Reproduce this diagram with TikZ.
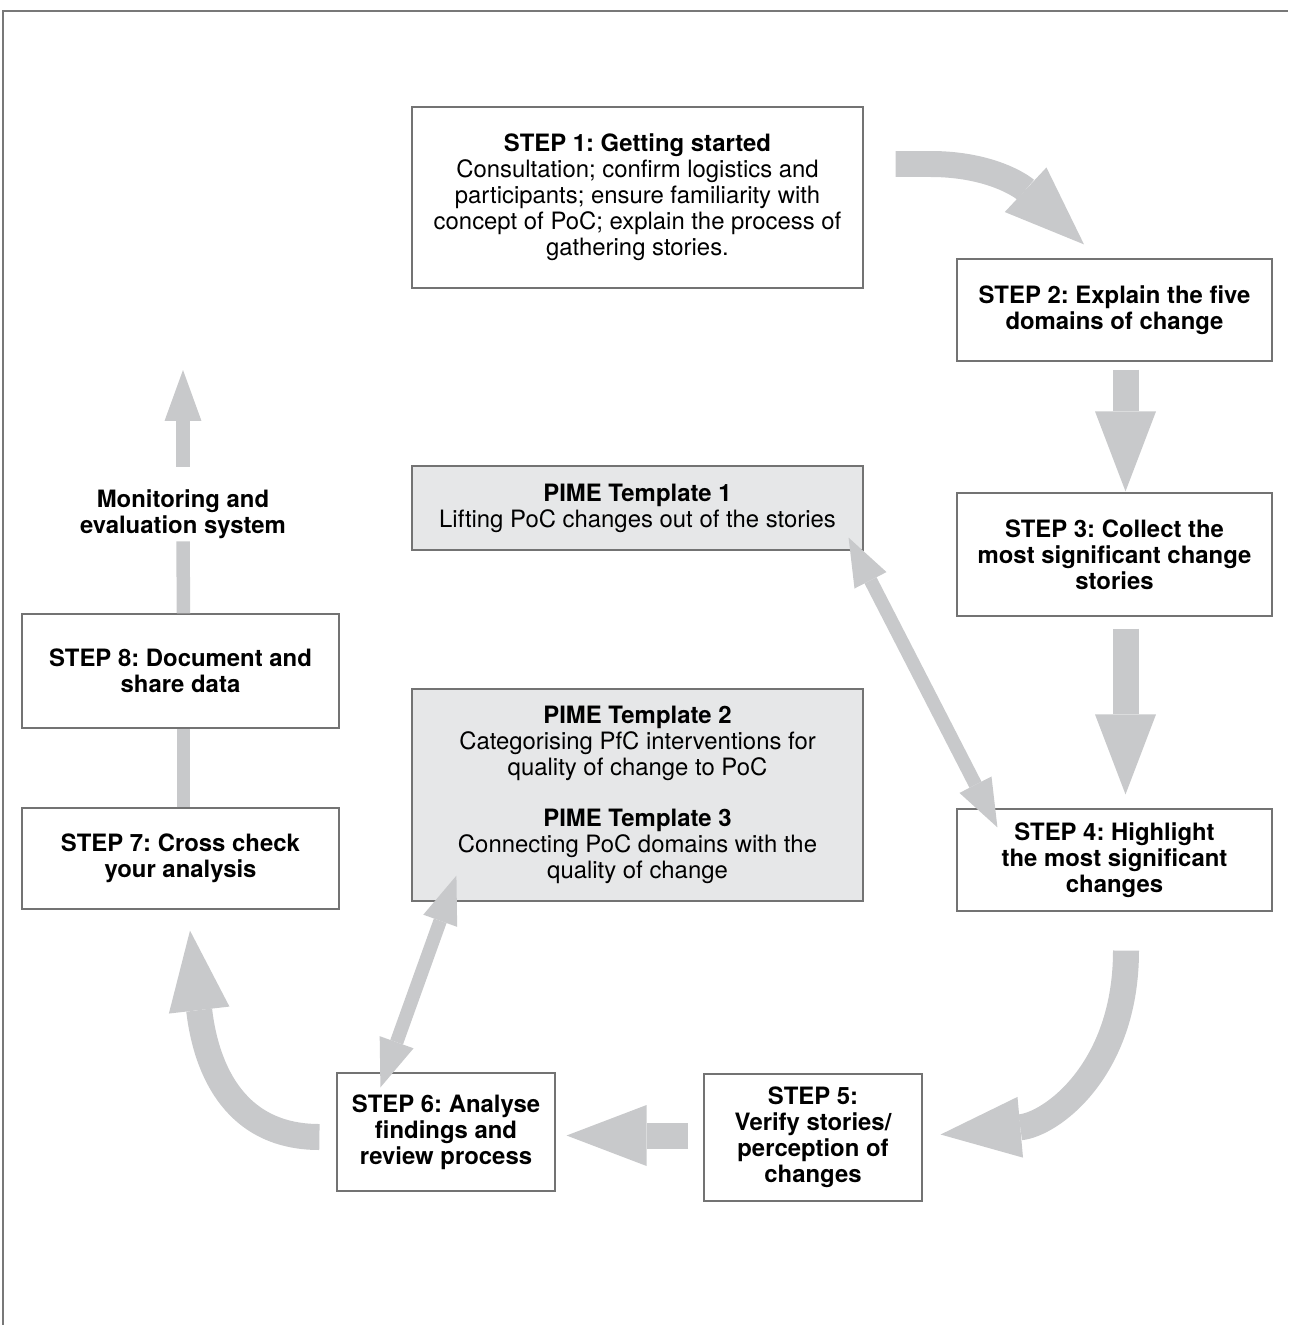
\documentclass[tikz,border=0pt]{standalone}
\usepackage{xcolor}
\usepackage{fontspec}
\setmainfont{TeX Gyre Heros}
\usetikzlibrary{arrows.meta}
\frenchspacing

\definecolor{arrowgray}{RGB}{200,201,203}
\definecolor{pimegray}{RGB}{230,231,232}
\definecolor{boxline}{RGB}{115,115,115}
\definecolor{framegray}{RGB}{120,120,120}

\begin{document}
\begin{tikzpicture}[x=0.02cm, y=-0.02cm,
    every node/.style={font=\fontsize{13.6}{14.8}\selectfont},
    stepbox/.style={draw=boxline, line width=0.7pt, fill=white, rectangle, align=center, inner sep=0pt, font=\fontsize{13.6}{14.8}\selectfont\bfseries},
    pimebox/.style={stepbox, fill=pimegray, font=\fontsize{13.6}{14.8}\selectfont},
    fatarrow/.style={arrowgray, line width=0.52cm, -{Triangle[width=1.22cm, length=1.6cm, line width=0pt]}},
    twoway/.style={arrowgray, line width=0.27cm, {Triangle[width=0.72cm, length=0.96cm, line width=0pt]}-{Triangle[width=0.72cm, length=0.96cm, line width=0pt]}},
    bar/.style={arrowgray, line width=0.27cm},
    thinarrow/.style={bar, -{Triangle[width=0.74cm, length=1.02cm, line width=0pt]}}]
    \useasboundingbox (0,0) rectangle (1288,1325);
    % frame
    \draw[framegray, line width=1.4pt] (3,1325) -- (3,11) -- (1288,11);

    % Step 1
    \node[stepbox, minimum width=9.02cm, minimum height=3.62cm, font=\fontsize{13.6}{14.8}\selectfont] (s1) at (637.5,197.5)
        {\textbf{STEP 1: Getting started}\\Consultation; confirm logistics and\\participants; ensure familiarity with\\concept of PoC; explain the process of\\gathering stories.};
    % Step 2
    \node[stepbox, minimum width=6.3cm, minimum height=2.04cm] (s2) at (1114.5,310) {STEP 2: Explain the five\\domains of change};
    % Step 3
    \node[stepbox, minimum width=6.3cm, minimum height=2.46cm] (s3) at (1114.5,554.5) {STEP 3: Collect the\\most significant change\\stories};
    % Step 4
    \node[stepbox, minimum width=6.3cm, minimum height=2.04cm] (s4) at (1114.5,860) {STEP 4: Highlight\\the most significant\\changes};
    % Step 5
    \node[stepbox, minimum width=4.36cm, minimum height=2.54cm] (s5) at (813,1137.5) {STEP 5:\\Verify stories/\\perception of\\changes};
    % Step 6
    \node[stepbox, minimum width=4.36cm, minimum height=2.36cm] (s6) at (446,1132) {STEP 6: Analyse\\findings and\\review process};
    % Step 7
    \node[stepbox, minimum width=6.34cm, minimum height=2.02cm] (s7) at (180.5,858.5) {STEP 7: Cross check\\your analysis};
    % Step 8
    \node[stepbox, minimum width=6.34cm, minimum height=2.28cm] (s8) at (180.5,671) {STEP 8: Document and\\share data};
    % M&E system
    \node[align=center, inner sep=0pt, minimum height=1.48cm, font=\fontsize{13.6}{14.8}\selectfont\bfseries] (mon) at (183,514) {Monitoring and\\evaluation system};
    \coordinate (mtop) at (183,370);

    % PIME templates
    \node[pimebox, minimum width=9.02cm, minimum height=1.68cm] (p1) at (637.5,508)
        {\textbf{PIME Template 1}\\Lifting PoC changes out of the stories};
    \node[pimebox, minimum width=9.02cm, minimum height=4.24cm] (p2) at (637.5,795)
        {\textbf{PIME Template 2}\\Categorising PfC interventions for\\quality of change to PoC\\[14pt]\textbf{PIME Template 3}\\Connecting PoC domains with the\\quality of change};

    % cycle arrows
    \draw[fatarrow] ([shift={(32,-33.5)}]s1.east) -- ++(35,0) .. controls +(60,0) and +(-62,-58) .. ([shift={(-30.5,-14)}]s2.north);
    \draw[fatarrow] ([shift={(11,8)}]s2.south) -- ([shift={(11,-1)}]s3.north);
    \draw[fatarrow] ([shift={(11,12)}]s3.south) -- ([shift={(11,-14)}]s4.north);
    \draw[fatarrow] ([shift={(11.5,39)}]s4.south) .. controls +(0,120) and +(110,-10) .. ([shift={(18,-3)}]s5.east);
    \draw[fatarrow] ([shift={(-15,-2)}]s5.west) -- ([shift={(11,3.5)}]s6.east);
    \draw[fatarrow] ([shift={(-17,5)}]s6.west) .. controls +(-90,0) and +(15,130) .. ([shift={(9.5,21)}]s7.south);
    \draw[bar] ([shift={(3,0)}]s7.north) -- ([shift={(3,0)}]s8.south);
    \draw[bar] ([shift={(3,0)}]s8.north) -- ([shift={(0,-10)}]mon.south);
    \draw[thinarrow] ([shift={(0,-10)}]mon.north) -- (mtop);

    % template links
    \draw[twoway] ([shift={(-15,-13)}]p1.south east) -- ([shift={(41,19)}]s4.north west);
    \draw[twoway] ([shift={(45,-26)}]p2.south west) -- ([shift={(44,15)}]s6.north west);
\end{tikzpicture}
\end{document}
